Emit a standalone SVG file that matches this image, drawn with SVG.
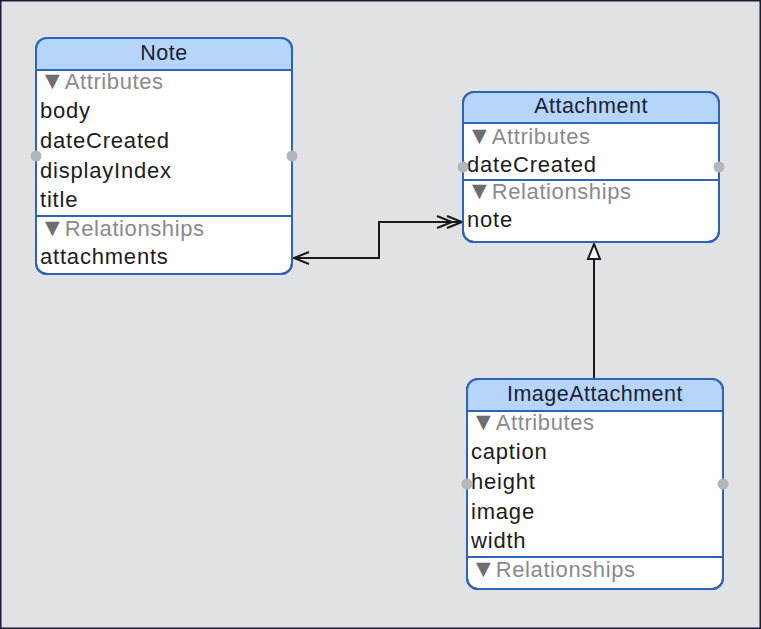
<svg xmlns="http://www.w3.org/2000/svg" width="761" height="629" viewBox="0 0 761 629">
<defs>
<style>
.box{fill:#ffffff;stroke:#2d64b5;stroke-width:2}
.hdr{fill:#b5d5fb}
.sep{stroke:#2d64b5;stroke-width:2}
.t{font-family:"Liberation Sans",Arial,sans-serif;font-size:22px;fill:#1c1c1e;letter-spacing:0.8px}
.ttl{font-family:"Liberation Sans",Arial,sans-serif;font-size:21.5px;fill:#1c2233;text-anchor:middle;letter-spacing:0.5px}
.sec{font-family:"Liberation Sans",Arial,sans-serif;font-size:22px;fill:#8a8a8e;letter-spacing:0.6px}
.tri{fill:#6e6e72;font-size:25px;letter-spacing:0}
.dot{fill:#b4b6bd}
.line{fill:none;stroke:#1a1a1a;stroke-width:2}
</style>
<clipPath id="cn"><rect x="36" y="38" width="256" height="236" rx="11"/></clipPath>
<clipPath id="ca"><rect x="463" y="92" width="256" height="150" rx="11"/></clipPath>
<clipPath id="ci"><rect x="467" y="379" width="256" height="210" rx="11"/></clipPath>
</defs>
<rect x="0" y="0" width="761" height="629" fill="#e1e2e5"/>
<rect x="0.75" y="0.75" width="759.5" height="627.5" fill="none" stroke="#1b1b3a" stroke-width="1.5"/>

<g id="connectors">
<polyline class="line" points="293,258 379,258 379,222 462,222"/>
<polyline class="line" points="309,252 294,258 309,264"/>
<polyline class="line" points="447,216 462,222 447,228"/>
<polyline class="line" points="437,216 452,222 437,228"/>
<line class="line" x1="594" y1="378" x2="594" y2="259"/>
<polygon points="594,244 588,259 600,259" fill="#ffffff" stroke="#1a1a1a" stroke-width="2" stroke-linejoin="miter"/>
</g>

<g id="note">
<rect class="box" x="36" y="38" width="256" height="236" rx="11"/>
<rect class="hdr" x="36" y="38" width="256" height="32" clip-path="url(#cn)"/>
<rect x="36" y="38" width="256" height="236" rx="11" fill="none" stroke="#2d64b5" stroke-width="2"/>
<line class="sep" x1="36" y1="70" x2="292" y2="70"/>
<line class="sep" x1="36" y1="216" x2="292" y2="216"/>
<text class="ttl" x="164" y="60">Note</text>
<text class="sec" x="40" y="89"><tspan class="tri">▼</tspan>Attributes</text>
<text class="t" x="40" y="118">body</text>
<text class="t" x="40" y="148">dateCreated</text>
<text class="t" x="40" y="178">displayIndex</text>
<text class="t" x="40" y="207">title</text>
<text class="sec" x="40" y="236"><tspan class="tri">▼</tspan>Relationships</text>
<text class="t" x="40" y="264">attachments</text>
<circle class="dot" cx="36" cy="156" r="5.5"/>
<circle class="dot" cx="292" cy="156" r="5.5"/>
</g>

<g id="attachment">
<rect class="box" x="463" y="92" width="256" height="150" rx="11"/>
<rect class="hdr" x="463" y="92" width="256" height="31" clip-path="url(#ca)"/>
<rect x="463" y="92" width="256" height="150" rx="11" fill="none" stroke="#2d64b5" stroke-width="2"/>
<line class="sep" x1="463" y1="123" x2="719" y2="123"/>
<line class="sep" x1="463" y1="180" x2="719" y2="180"/>
<text class="ttl" x="591" y="113">Attachment</text>
<text class="sec" x="467" y="144"><tspan class="tri">▼</tspan>Attributes</text>
<text class="t" x="467" y="172">dateCreated</text>
<text class="sec" x="467" y="199"><tspan class="tri">▼</tspan>Relationships</text>
<text class="t" x="467" y="227">note</text>
<circle class="dot" cx="463" cy="167" r="5.5"/>
<circle class="dot" cx="719" cy="167" r="5.5"/>
</g>

<g id="imageattachment">
<rect class="box" x="467" y="379" width="256" height="210" rx="11"/>
<rect class="hdr" x="467" y="379" width="256" height="32" clip-path="url(#ci)"/>
<rect x="467" y="379" width="256" height="210" rx="11" fill="none" stroke="#2d64b5" stroke-width="2"/>
<line class="sep" x1="467" y1="411" x2="723" y2="411"/>
<line class="sep" x1="467" y1="557" x2="723" y2="557"/>
<text class="ttl" x="595" y="401">ImageAttachment</text>
<text class="sec" x="471" y="430"><tspan class="tri">▼</tspan>Attributes</text>
<text class="t" x="471" y="459">caption</text>
<text class="t" x="471" y="489">height</text>
<text class="t" x="471" y="519">image</text>
<text class="t" x="471" y="548">width</text>
<text class="sec" x="471" y="577"><tspan class="tri">▼</tspan>Relationships</text>
<circle class="dot" cx="467" cy="484" r="5.5"/>
<circle class="dot" cx="723" cy="484" r="5.5"/>
</g>
</svg>
